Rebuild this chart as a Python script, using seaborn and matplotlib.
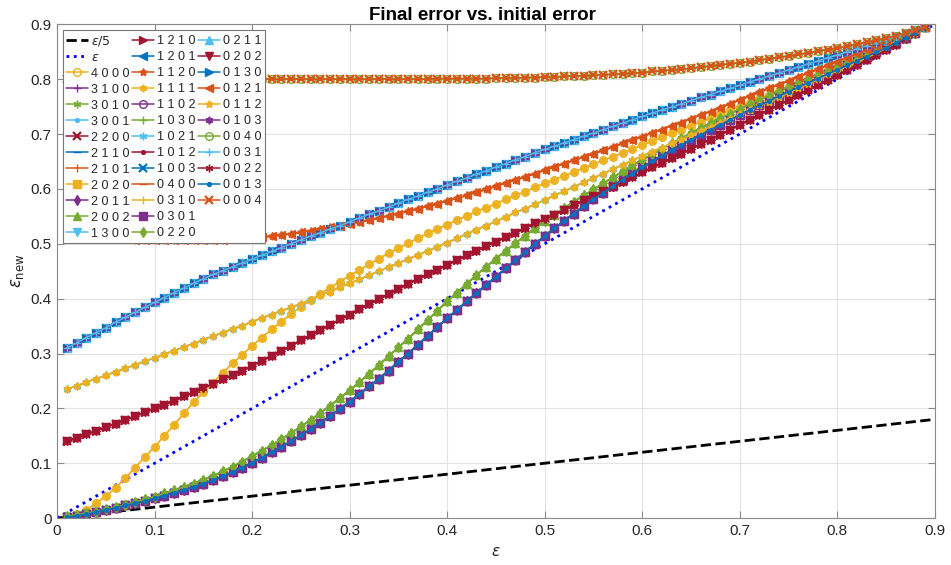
import numpy as np
import matplotlib
matplotlib.use("Agg")
import matplotlib.pyplot as plt
from matplotlib.lines import Line2D
import seaborn as sns

# ---------------- data ----------------
eps = np.round(np.arange(1, 90) * 0.01, 2)          # initial error grid 0.01..0.89
ref_eps = [0.0, 0.9]                                 # reference lines eps/5 and eps

curve_A = [0.800, 0.800, 0.800, 0.800, 0.800, 0.800, 0.800, 0.800, 0.800, 0.800,
           0.800, 0.800, 0.800, 0.800, 0.800, 0.800, 0.800, 0.800, 0.800, 0.800,
           0.800, 0.800, 0.800, 0.800, 0.800, 0.800, 0.800, 0.800, 0.800, 0.800,
           0.800, 0.800, 0.800, 0.800, 0.800, 0.800, 0.800, 0.800, 0.801, 0.801,
           0.801, 0.801, 0.801, 0.801, 0.802, 0.802, 0.802, 0.803, 0.803, 0.804,
           0.804, 0.805, 0.806, 0.806, 0.807, 0.808, 0.809, 0.810, 0.811, 0.812,
           0.814, 0.815, 0.817, 0.818, 0.820, 0.822, 0.824, 0.826, 0.828, 0.830,
           0.832, 0.835, 0.837, 0.840, 0.842, 0.845, 0.848, 0.851, 0.854, 0.857,
           0.860, 0.864, 0.867, 0.871, 0.875, 0.879, 0.884, 0.889, 0.895]

curve_B = [0.310, 0.319, 0.329, 0.338, 0.347, 0.357, 0.366, 0.375, 0.384, 0.393,
           0.402, 0.411, 0.419, 0.428, 0.436, 0.444, 0.451, 0.458, 0.465, 0.472,
           0.479, 0.486, 0.493, 0.500, 0.507, 0.514, 0.520, 0.527, 0.533, 0.540,
           0.547, 0.554, 0.560, 0.567, 0.574, 0.581, 0.587, 0.594, 0.600, 0.607,
           0.614, 0.620, 0.627, 0.633, 0.640, 0.646, 0.653, 0.659, 0.666, 0.672,
           0.678, 0.684, 0.690, 0.696, 0.702, 0.708, 0.714, 0.720, 0.726, 0.732,
           0.738, 0.744, 0.749, 0.755, 0.761, 0.767, 0.772, 0.778, 0.783, 0.789,
           0.795, 0.800, 0.806, 0.811, 0.817, 0.822, 0.828, 0.833, 0.839, 0.844,
           0.850, 0.855, 0.861, 0.866, 0.872, 0.877, 0.883, 0.889, 0.895]

curve_C = [0.513, 0.512, 0.511, 0.510, 0.509, 0.508, 0.508, 0.507, 0.507, 0.506,
           0.506, 0.506, 0.506, 0.506, 0.506, 0.507, 0.507, 0.508, 0.509, 0.511,
           0.512, 0.514, 0.516, 0.518, 0.521, 0.524, 0.527, 0.530, 0.533, 0.536,
           0.540, 0.543, 0.547, 0.551, 0.555, 0.559, 0.564, 0.568, 0.573, 0.578,
           0.583, 0.588, 0.594, 0.599, 0.605, 0.611, 0.616, 0.622, 0.628, 0.634,
           0.640, 0.646, 0.652, 0.658, 0.664, 0.670, 0.676, 0.683, 0.689, 0.695,
           0.702, 0.708, 0.715, 0.721, 0.728, 0.735, 0.741, 0.748, 0.755, 0.762,
           0.769, 0.776, 0.783, 0.790, 0.797, 0.804, 0.811, 0.818, 0.825, 0.832,
           0.839, 0.846, 0.853, 0.861, 0.868, 0.875, 0.881, 0.888, 0.895]

curve_D = [0.235, 0.241, 0.248, 0.254, 0.260, 0.267, 0.273, 0.279, 0.286, 0.292,
           0.299, 0.305, 0.312, 0.318, 0.325, 0.332, 0.338, 0.345, 0.351, 0.358,
           0.365, 0.371, 0.378, 0.384, 0.391, 0.398, 0.406, 0.413, 0.421, 0.428,
           0.435, 0.443, 0.450, 0.458, 0.465, 0.472, 0.480, 0.487, 0.495, 0.502,
           0.510, 0.518, 0.526, 0.533, 0.541, 0.549, 0.557, 0.564, 0.572, 0.580,
           0.588, 0.596, 0.604, 0.612, 0.620, 0.628, 0.636, 0.644, 0.652, 0.660,
           0.668, 0.675, 0.683, 0.690, 0.698, 0.706, 0.713, 0.721, 0.728, 0.736,
           0.744, 0.752, 0.759, 0.767, 0.775, 0.783, 0.791, 0.799, 0.807, 0.815,
           0.823, 0.831, 0.839, 0.847, 0.855, 0.865, 0.875, 0.885, 0.895]

curve_E = [0.140, 0.146, 0.153, 0.159, 0.166, 0.172, 0.179, 0.186, 0.193, 0.200,
           0.207, 0.214, 0.222, 0.229, 0.237, 0.245, 0.253, 0.261, 0.269, 0.278,
           0.287, 0.296, 0.305, 0.314, 0.324, 0.333, 0.343, 0.352, 0.362, 0.371,
           0.381, 0.390, 0.399, 0.409, 0.418, 0.427, 0.436, 0.444, 0.453, 0.462,
           0.470, 0.479, 0.487, 0.496, 0.504, 0.512, 0.520, 0.529, 0.537, 0.545,
           0.553, 0.562, 0.570, 0.579, 0.587, 0.596, 0.604, 0.613, 0.621, 0.630,
           0.639, 0.647, 0.656, 0.664, 0.673, 0.682, 0.690, 0.699, 0.708, 0.717,
           0.726, 0.735, 0.744, 0.753, 0.762, 0.771, 0.780, 0.789, 0.798, 0.807,
           0.816, 0.825, 0.835, 0.844, 0.853, 0.863, 0.874, 0.884, 0.895]

curve_F = [0.002, 0.007, 0.015, 0.027, 0.040, 0.055, 0.073, 0.092, 0.111, 0.130,
           0.150, 0.170, 0.191, 0.211, 0.229, 0.247, 0.265, 0.282, 0.298, 0.314,
           0.329, 0.344, 0.358, 0.372, 0.385, 0.397, 0.409, 0.420, 0.431, 0.442,
           0.452, 0.463, 0.473, 0.483, 0.492, 0.501, 0.510, 0.519, 0.527, 0.535,
           0.543, 0.551, 0.559, 0.566, 0.573, 0.581, 0.588, 0.595, 0.603, 0.610,
           0.617, 0.624, 0.631, 0.638, 0.645, 0.652, 0.659, 0.666, 0.673, 0.680,
           0.687, 0.694, 0.701, 0.708, 0.715, 0.722, 0.729, 0.736, 0.743, 0.750,
           0.757, 0.764, 0.772, 0.779, 0.786, 0.793, 0.801, 0.808, 0.816, 0.823,
           0.831, 0.839, 0.846, 0.854, 0.862, 0.870, 0.878, 0.886, 0.895]

curve_G = [0.003, 0.006, 0.009, 0.012, 0.016, 0.020, 0.024, 0.029, 0.034, 0.039,
           0.045, 0.051, 0.057, 0.063, 0.070, 0.077, 0.085, 0.094, 0.103, 0.113,
           0.123, 0.133, 0.144, 0.155, 0.167, 0.179, 0.192, 0.205, 0.219, 0.233,
           0.248, 0.263, 0.279, 0.295, 0.311, 0.327, 0.344, 0.361, 0.378, 0.395,
           0.411, 0.427, 0.443, 0.458, 0.473, 0.487, 0.501, 0.515, 0.528, 0.541,
           0.553, 0.565, 0.577, 0.588, 0.599, 0.610, 0.621, 0.632, 0.643, 0.653,
           0.663, 0.673, 0.683, 0.692, 0.702, 0.711, 0.720, 0.729, 0.737, 0.746,
           0.754, 0.762, 0.770, 0.778, 0.786, 0.793, 0.801, 0.808, 0.815, 0.822,
           0.830, 0.837, 0.844, 0.852, 0.859, 0.867, 0.875, 0.885, 0.895]

curve_H = [0.002, 0.004, 0.007, 0.011, 0.015, 0.019, 0.023, 0.027, 0.031, 0.036,
           0.041, 0.046, 0.051, 0.057, 0.063, 0.069, 0.076, 0.084, 0.092, 0.101,
           0.110, 0.120, 0.130, 0.140, 0.151, 0.162, 0.174, 0.186, 0.199, 0.212,
           0.226, 0.240, 0.254, 0.269, 0.285, 0.300, 0.316, 0.332, 0.348, 0.364,
           0.379, 0.395, 0.410, 0.425, 0.440, 0.455, 0.470, 0.485, 0.500, 0.514,
           0.528, 0.542, 0.555, 0.568, 0.581, 0.593, 0.605, 0.617, 0.628, 0.639,
           0.650, 0.660, 0.670, 0.680, 0.690, 0.699, 0.708, 0.717, 0.726, 0.735,
           0.744, 0.752, 0.760, 0.769, 0.777, 0.785, 0.793, 0.801, 0.809, 0.817,
           0.825, 0.833, 0.841, 0.849, 0.857, 0.866, 0.875, 0.885, 0.895]

# series labels in plotting / legend order
series_labels = ["4000", "3100", "3010", "3001", "2200", "2110", "2101", "2020",
                 "2011", "2002", "1300", "1210", "1201", "1120", "1111", "1102",
                 "1030", "1021", "1012", "1003", "0400", "0310", "0301", "0220",
                 "0211", "0202", "0130", "0121", "0112", "0103", "0040", "0031",
                 "0022", "0013", "0004"]

# which distinct curve each configuration follows
curve_of = {
    "0400": curve_A, "0040": curve_A, "0004": curve_A,
    "1300": curve_B, "1201": curve_B, "0211": curve_B, "0130": curve_B,
    "0103": curve_B, "0031": curve_B,
    "2101": curve_C, "1120": curve_C, "0121": curve_C,
    "3001": curve_D, "1021": curve_D, "0310": curve_D, "0112": curve_D,
    "2200": curve_E, "1210": curve_E, "1012": curve_E, "0202": curve_E, "0022": curve_E,
    "4000": curve_F, "1111": curve_F,
    "3100": curve_G, "3010": curve_G, "2002": curve_G, "1030": curve_G, "0220": curve_G,
    "2110": curve_H, "2020": curve_H, "2011": curve_H, "1102": curve_H,
    "1003": curve_H, "0301": curve_H, "0013": curve_H,
}

# ---------------- style ----------------
matlab_colors = ["#0072BD", "#D95319", "#EDB120", "#7E2F8E",
                 "#77AC30", "#4DBEEE", "#A2142F"]
matlab_markers = ["o", "+", (6, 2, 0), ".", "x", "_", "|", "s", "d",
                  "^", "v", ">", "<", (5, 1, 0), (6, 1, 0)]

sns.set_theme(style="whitegrid")
plt.rcParams["font.family"] = ["Liberation Sans", "DejaVu Sans"]
plt.rcParams["mathtext.fontset"] = "dejavusans"

fig = plt.figure(figsize=(9.51, 5.65), dpi=100)
ax = fig.add_axes([0.060, 0.083, 0.923, 0.874])

sns.lineplot(x=ref_eps, y=[v / 5 for v in ref_eps], ax=ax, color="black",
             linestyle="--", linewidth=2.0, label=r"$\epsilon/5$")
sns.lineplot(x=ref_eps, y=ref_eps, ax=ax, color="#0000FF",
             linestyle=":", linewidth=2.0, label=r"$\epsilon$")

for i, lab in enumerate(series_labels):
    col = matlab_colors[(i + 2) % 7]
    mk = matlab_markers[i % 15]
    hollow = (mk == "o")
    mew = 1.6 if mk == "x" else 1.0
    sns.lineplot(x=eps, y=curve_of[lab], ax=ax, color=col, linewidth=1.1,
                 marker=mk, markersize=5.5, markeredgewidth=mew,
                 markeredgecolor=col,
                 markerfacecolor=("none" if hollow else col),
                 label=" ".join(lab))

ax.set_xlim(0, 0.9)
ax.set_ylim(0, 0.9)
ticks = [0, 0.1, 0.2, 0.3, 0.4, 0.5, 0.6, 0.7, 0.8, 0.9]
tick_labels = ["0", "0.1", "0.2", "0.3", "0.4", "0.5", "0.6", "0.7", "0.8", "0.9"]
ax.set_xticks(ticks)
ax.set_xticklabels(tick_labels)
ax.set_yticks(ticks)
ax.set_yticklabels(tick_labels)

ax.grid(True, color="#E3E3E3", linewidth=0.8)
for s in ax.spines.values():
    s.set_color("#8a8a8a")
    s.set_linewidth(0.8)
    s.set_visible(True)
ax.tick_params(axis="both", which="both", direction="in", length=5, width=0.8,
               color="#8a8a8a", labelsize=11, labelcolor="#262626",
               top=True, right=True, bottom=True, left=True, pad=4)

ax.set_title("Final error vs. initial error", fontsize=13.5, fontweight="bold",
             color="black", pad=2, x=0.485)
ax.set_xlabel(r"$\epsilon$", fontsize=11, color="#262626", labelpad=5)
ax.set_ylabel(r"$\epsilon_{\mathrm{new}}$", fontsize=12, color="#262626", labelpad=3)

handles, labels = ax.get_legend_handles_labels()
handles.append(Line2D([], [], linestyle="none", marker=None))
labels.append("")
leg = ax.legend(handles, labels, loc="upper left", ncol=3, fontsize=9,
                frameon=True, fancybox=False, framealpha=1, edgecolor="#777777",
                borderaxespad=0.45, handlelength=1.7, handletextpad=0.25,
                columnspacing=0.25, labelspacing=0.32, borderpad=0.3,
                numpoints=1)
leg.get_frame().set_linewidth(0.8)

fig.savefig("out.png", dpi=100)
